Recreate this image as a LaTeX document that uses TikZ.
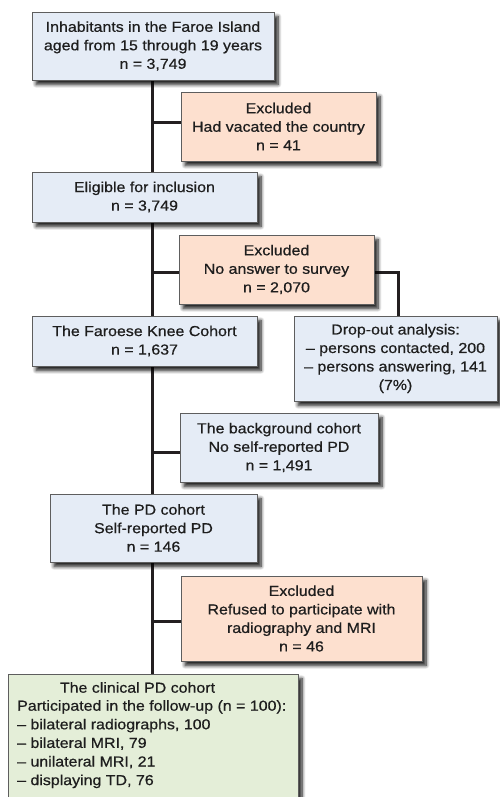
\documentclass[tikz,border=0pt]{standalone}
\usepackage{fontspec}
\setmainfont[FakeStretch=1.1,FakeBold=0.6]{Liberation Sans}
\usetikzlibrary{shadows.blur}
\definecolor{bluefill}{HTML}{E5ECF6}
\definecolor{orangefill}{HTML}{FDE0CF}
\definecolor{greenfill}{HTML}{E4EED8}
\definecolor{boxline}{HTML}{5E5E5E}
\definecolor{txt}{HTML}{1E1E1E}
\definecolor{conn}{HTML}{231F20}
\tikzset{
  box/.style={draw=boxline, line width=0.9pt, rectangle, align=center, inner sep=0pt,
    text=txt, font=\fontsize{14.5}{18.5}\selectfont,
    blur shadow={shadow xshift=4pt, shadow yshift=-4.5pt, shadow blur radius=3.5pt, shadow blur steps=8, shadow opacity=90}},
  bluebox/.style={box, fill=bluefill},
  orangebox/.style={box, fill=orangefill},
  greenbox/.style={box, fill=greenfill},
  conline/.style={draw=conn, line width=3pt},
  plain/.style={inner sep=0pt, text=txt, font=\fontsize{14.5}{18.6}\selectfont, align=left}
}
\begin{document}
\begin{tikzpicture}[x=1pt,y=1pt]
\useasboundingbox (0,0) rectangle (500,797);
% connectors
\coordinate (top) at (152,717);
\coordinate (bot) at (152,123);
\coordinate (j1) at (152,674);
\coordinate (j2) at (152,524);
\coordinate (j3) at (152,344);
\coordinate (j4) at (152,175);
\coordinate (k) at (398,524);
\draw[conline] (top) -- (bot);
\draw[conline] (j1) -- (181,674);
\draw[conline] (j2) -- (179,524);
\draw[conline] (j3) -- (180,344);
\draw[conline] (j4) -- (181,175);
\draw[conline] (276,524) -- (k) -- (398,481);
% boxes
\node[bluebox, minimum width=242pt, minimum height=68pt] (b1) at (153,751)
  {Inhabitants in the Faroe Island\\aged from 15 through 19 years\\n = 3,749};
\node[orangebox, minimum width=195pt, minimum height=69pt] (e1) at (278.5,670.5)
  {Excluded\\Had vacated the country\\n = 41};
\node[bluebox, minimum width=225pt, minimum height=50pt] (b2) at (144.5,600)
  {Eligible for inclusion\\n = 3,749};
\node[orangebox, minimum width=195pt, minimum height=69pt] (e2) at (276.5,527.5)
  {Excluded\\No answer to survey\\n = 2,070};
\node[bluebox, minimum width=203pt, minimum height=85pt] (d) at (395.5,438.5)
  {Drop-out analysis:\\– persons contacted, 200\\– persons answering, 141\\(7\%)};
\node[bluebox, minimum width=225pt, minimum height=50pt] (b3) at (144.5,456)
  {The Faroese Knee Cohort\\n = 1,637};
\node[bluebox, minimum width=198pt, minimum height=69pt] (b4) at (279,349.5)
  {The background cohort\\No self-reported PD\\n = 1,491};
\node[bluebox, minimum width=207pt, minimum height=68pt] (b5) at (153.5,269)
  {The PD cohort\\Self-reported PD\\n = 146};
\node[orangebox, minimum width=241pt, minimum height=85pt] (e3) at (301.5,178.5)
  {Excluded\\Refused to participate with\\radiography and MRI\\n = 46};
\node[greenbox, minimum width=290pt, minimum height=136pt] (g) at (153,55) {};
\node[plain, anchor=north] (gt) at (137.5,115) {The clinical PD cohort};
\node[plain, anchor=north west] (gl) at (17,97)
  {Participated in the follow-up (n = 100):\\– bilateral radiographs, 100\\– bilateral MRI, 79\\– unilateral MRI, 21\\– displaying TD, 76};
\end{tikzpicture}
\end{document}
